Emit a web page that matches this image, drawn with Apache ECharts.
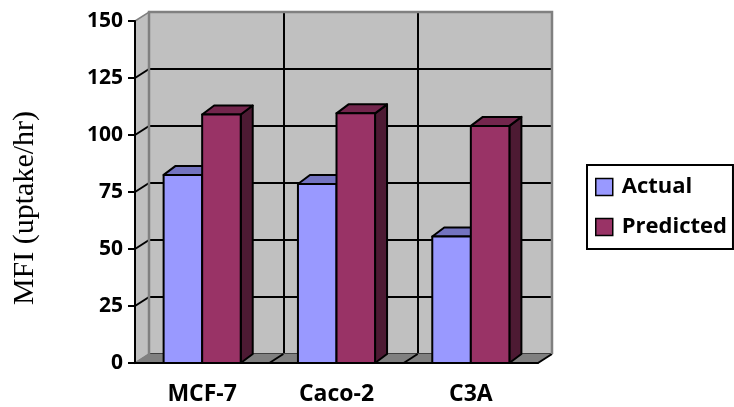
<!DOCTYPE html>
<html>
<head>
<meta charset="utf-8">
<script src="https://cdn.jsdelivr.net/npm/echarts@6/dist/echarts.min.js"></script>
<style>
  html, body { margin: 0; padding: 0; background: #fff; }
  #chart { width: 734px; height: 407px; }
</style>
</head>
<body>
<div id="chart"></div>
<script>
// Cell lines and MFI uptake rates
const categories = ['MCF-7', 'Caco-2', 'C3A'];
const actual = [82.5, 78.5, 55.5];
const predicted = [109, 109.5, 104];
const yTicks = [0, 25, 50, 75, 100, 125, 150];

// Front plane of the plot and the depth offsets used for the 3-D look
const FRONT = { left: 135, top: 21, width: 403, height: 342 };
const WALL_DX = 14, WALL_DY = -9;
const BAR_DX = 12, BAR_DY = -9;
const BAR_FRAC = 0.287; // bar width as a share of the category band

const FONT = 'Open Sans';

const palette = {
  Actual:    { front: '#9999FF', top: '#7373C0', side: '#4D4D80' },
  Predicted: { front: '#993366', top: '#73264D', side: '#4D1A33' }
};

// Left wall, floor and the back-wall outline
function renderWalls(params, api) {
  const cs = params.coordSys;
  const x0 = cs.x, x1 = cs.x + cs.width;
  const yt = cs.y, yb = cs.y + cs.height;
  const dx = WALL_DX, dy = WALL_DY;
  const kids = [];
  kids.push({
    type: 'polygon',
    shape: { points: [[x0, yb], [x0 + dx, yb + dy], [x0 + dx, yt + dy], [x0, yt]] },
    style: { fill: '#C0C0C0', stroke: '#808080', lineWidth: 1.5 }
  });
  kids.push({
    type: 'polygon',
    shape: { points: [[x0, yb], [x1, yb], [x1 + dx, yb + dy], [x0 + dx, yb + dy]] },
    style: { fill: '#808080', stroke: '#808080', lineWidth: 1 }
  });
  yTicks.slice(1, -1).forEach(function (t) {
    const y = api.coord([0, t])[1];
    kids.push({
      type: 'line',
      shape: { x1: x0, y1: y, x2: x0 + dx, y2: y + dy },
      style: { stroke: '#000', lineWidth: 2 }
    });
  });
  const n = categories.length;
  for (let k = 1; k < n; k++) {
    const x = x0 + cs.width * k / n;
    kids.push({
      type: 'line',
      shape: { x1: x, y1: yb, x2: x + dx, y2: yb + dy },
      style: { stroke: '#000', lineWidth: 2 }
    });
  }
  kids.push({
    type: 'line',
    shape: { x1: x1, y1: yb, x2: x1 + dx, y2: yb + dy },
    style: { stroke: '#000', lineWidth: 2 }
  });
  kids.push({
    type: 'polyline',
    shape: { points: [[x0 + dx, yb + dy], [x0 + dx, yt + dy], [x1 + dx, yt + dy], [x1 + dx, yb + dy]] },
    style: { stroke: '#808080', lineWidth: 2.5, fill: null }
  });
  return { type: 'group', children: kids };
}

// A 3-D column: front face, right side and top
function barRenderer(slot, colors) {
  return function (params, api) {
    const cat = api.value(0);
    const val = api.value(1);
    const base = api.coord([cat, 0]);
    const top = api.coord([cat, val]);
    const band = api.size([1, 0])[0];
    const w = band * BAR_FRAC;
    const x0 = base[0] - w + slot * w;
    const x1 = x0 + w;
    const yT = top[1], yB = base[1];
    const line = { stroke: '#000', lineWidth: 2, lineJoin: 'round' };
    return {
      type: 'group',
      children: [
        {
          type: 'polygon',
          shape: { points: [[x1, yT], [x1 + BAR_DX, yT + BAR_DY], [x1 + BAR_DX, yB + BAR_DY], [x1, yB]] },
          style: Object.assign({ fill: colors.side }, line)
        },
        {
          type: 'polygon',
          shape: { points: [[x0, yT], [x0 + BAR_DX, yT + BAR_DY], [x1 + BAR_DX, yT + BAR_DY], [x1, yT]] },
          style: Object.assign({ fill: colors.top }, line)
        },
        {
          type: 'rect',
          shape: { x: x0, y: yT, width: w, height: yB - yT },
          style: Object.assign({ fill: colors.front }, line)
        }
      ]
    };
  };
}

const chart = echarts.init(document.getElementById('chart'));

chart.setOption({
  animation: false,
  backgroundColor: '#fff',
  grid: [
    { left: FRONT.left, top: FRONT.top, width: FRONT.width, height: FRONT.height, show: false },
    {
      left: FRONT.left + WALL_DX, top: FRONT.top + WALL_DY,
      width: FRONT.width, height: FRONT.height,
      show: true, backgroundColor: '#C0C0C0', borderWidth: 0
    }
  ],
  xAxis: [
    {
      gridIndex: 0, type: 'category', data: categories, z: 6,
      axisLine: { lineStyle: { color: '#000', width: 2 } },
      axisTick: { length: 5, lineStyle: { color: '#000', width: 2 } },
      axisLabel: { color: '#000', fontFamily: FONT, fontWeight: 'bold', fontSize: 23, margin: 20 }
    },
    {
      gridIndex: 1, type: 'value', min: 0, max: categories.length, interval: 1,
      axisLine: { show: false }, axisTick: { show: false }, axisLabel: { show: false },
      splitLine: { show: true, lineStyle: { color: '#000', width: 2 } }
    }
  ],
  yAxis: [
    {
      gridIndex: 0, type: 'value', min: yTicks[0], max: yTicks[yTicks.length - 1],
      interval: yTicks[1] - yTicks[0], z: 6,
      name: 'MFI (uptake/hr)', nameLocation: 'middle', nameGap: 95, nameRotate: 90,
      nameTextStyle: { color: '#000', fontFamily: 'Liberation Serif', fontSize: 30, padding: [0, 32, 0, 0] },
      axisLine: { show: true, lineStyle: { color: '#000', width: 2 } },
      axisTick: { show: true, length: 7, lineStyle: { color: '#000', width: 2 } },
      axisLabel: { color: '#000', fontFamily: FONT, fontWeight: 'bold', fontSize: 21, margin: 12 },
      splitLine: { show: false }
    },
    {
      gridIndex: 1, type: 'value', min: yTicks[0], max: yTicks[yTicks.length - 1],
      interval: yTicks[1] - yTicks[0],
      axisLine: { show: false }, axisTick: { show: false }, axisLabel: { show: false },
      splitLine: { show: true, lineStyle: { color: '#000', width: 2 } }
    }
  ],
  legend: {
    orient: 'vertical', left: 587, top: 165,
    padding: [11, 6, 11, 8], itemGap: 18,
    itemWidth: 17, itemHeight: 17, icon: 'rect',
    borderColor: '#000', borderWidth: 2, backgroundColor: '#fff',
    itemStyle: { borderColor: '#000', borderWidth: 1.5 },
    textStyle: { color: '#000', fontFamily: FONT, fontWeight: 'bold', fontSize: 22, padding: [0, 0, 0, 4] },
    data: ['Actual', 'Predicted']
  },
  series: [
    {
      name: 'walls', type: 'custom', xAxisIndex: 0, yAxisIndex: 0, z: 1,
      silent: true, renderItem: renderWalls, data: [[0, 0]]
    },
    {
      name: 'Actual', type: 'custom', xAxisIndex: 0, yAxisIndex: 0, z: 3,
      itemStyle: { color: palette.Actual.front },
      renderItem: barRenderer(0, palette.Actual),
      data: actual.map(function (v, i) { return [i, v]; })
    },
    {
      name: 'Predicted', type: 'custom', xAxisIndex: 0, yAxisIndex: 0, z: 3,
      itemStyle: { color: palette.Predicted.front },
      renderItem: barRenderer(1, palette.Predicted),
      data: predicted.map(function (v, i) { return [i, v]; })
    }
  ]
});
</script>
</body>
</html>
